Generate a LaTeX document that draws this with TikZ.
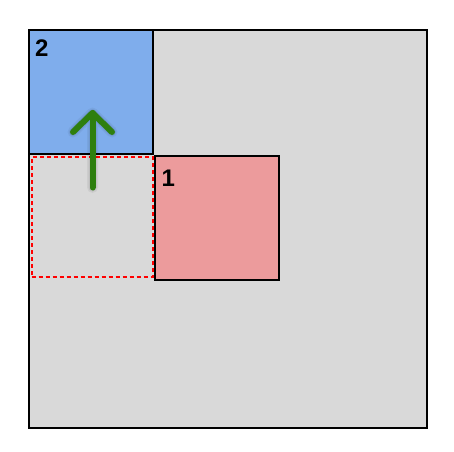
\documentclass[tikz,border=0pt]{standalone}
\usepackage{fontspec}
\setmainfont{Liberation Sans}
\definecolor{bgray}{HTML}{D9D9D9}
\definecolor{bblue}{HTML}{7FADEC}
\definecolor{bpink}{HTML}{EC9B9C}
\definecolor{agreen}{HTML}{2E7F0E}
\begin{document}
\begin{tikzpicture}[x=1pt,y=-1pt,
  sq/.style={draw=black, line width=2pt, inner sep=0pt, outer sep=0pt, minimum width=#1, minimum height=#1},
  ghost/.style={draw=red, line width=2pt, dash pattern=on 4pt off 3pt, inner sep=0pt, minimum width=121, minimum height=120},
  lbl/.style={inner sep=0pt, anchor=base west, font=\fontsize{24}{24}\selectfont\bfseries},
  arr/.style={line width=6pt, line cap=round, line join=round, draw=agreen},
  shad/.style={line width=#1, line cap=round, line join=round, draw=black}
]
\useasboundingbox (0,0) rectangle (454,451);
\fill[white] (0,0) rectangle (454,451);
\node[sq=398, fill=bgray] (outer) at (228,229) {};
\node[sq=124, fill=bblue] (blue) at (91,92) {};
\node[ghost] (ghost) at (92,217) {};
\node[sq=124, fill=bpink] (pink) at (217,217.5) {};
\node[lbl] (two) at (35,56) {2};
\node[lbl] (one) at (161.5,186) {1};
\coordinate (tail) at (92.5,187.5);
\coordinate (tip) at (92.5,113);
\coordinate (armL) at (73,132);
\coordinate (armR) at (112,132);
\begin{scope}[shift={(1,4)}]
  \draw[shad=11pt, opacity=0.05] (armL) -- (tip) -- (armR) (tip) -- (tail);
  \draw[shad=8pt, opacity=0.07] (armL) -- (tip) -- (armR) (tip) -- (tail);
\end{scope}
\draw[arr] (tail) -- (tip);
\draw[arr] (armL) -- (tip) -- (armR);
\end{tikzpicture}
\end{document}
